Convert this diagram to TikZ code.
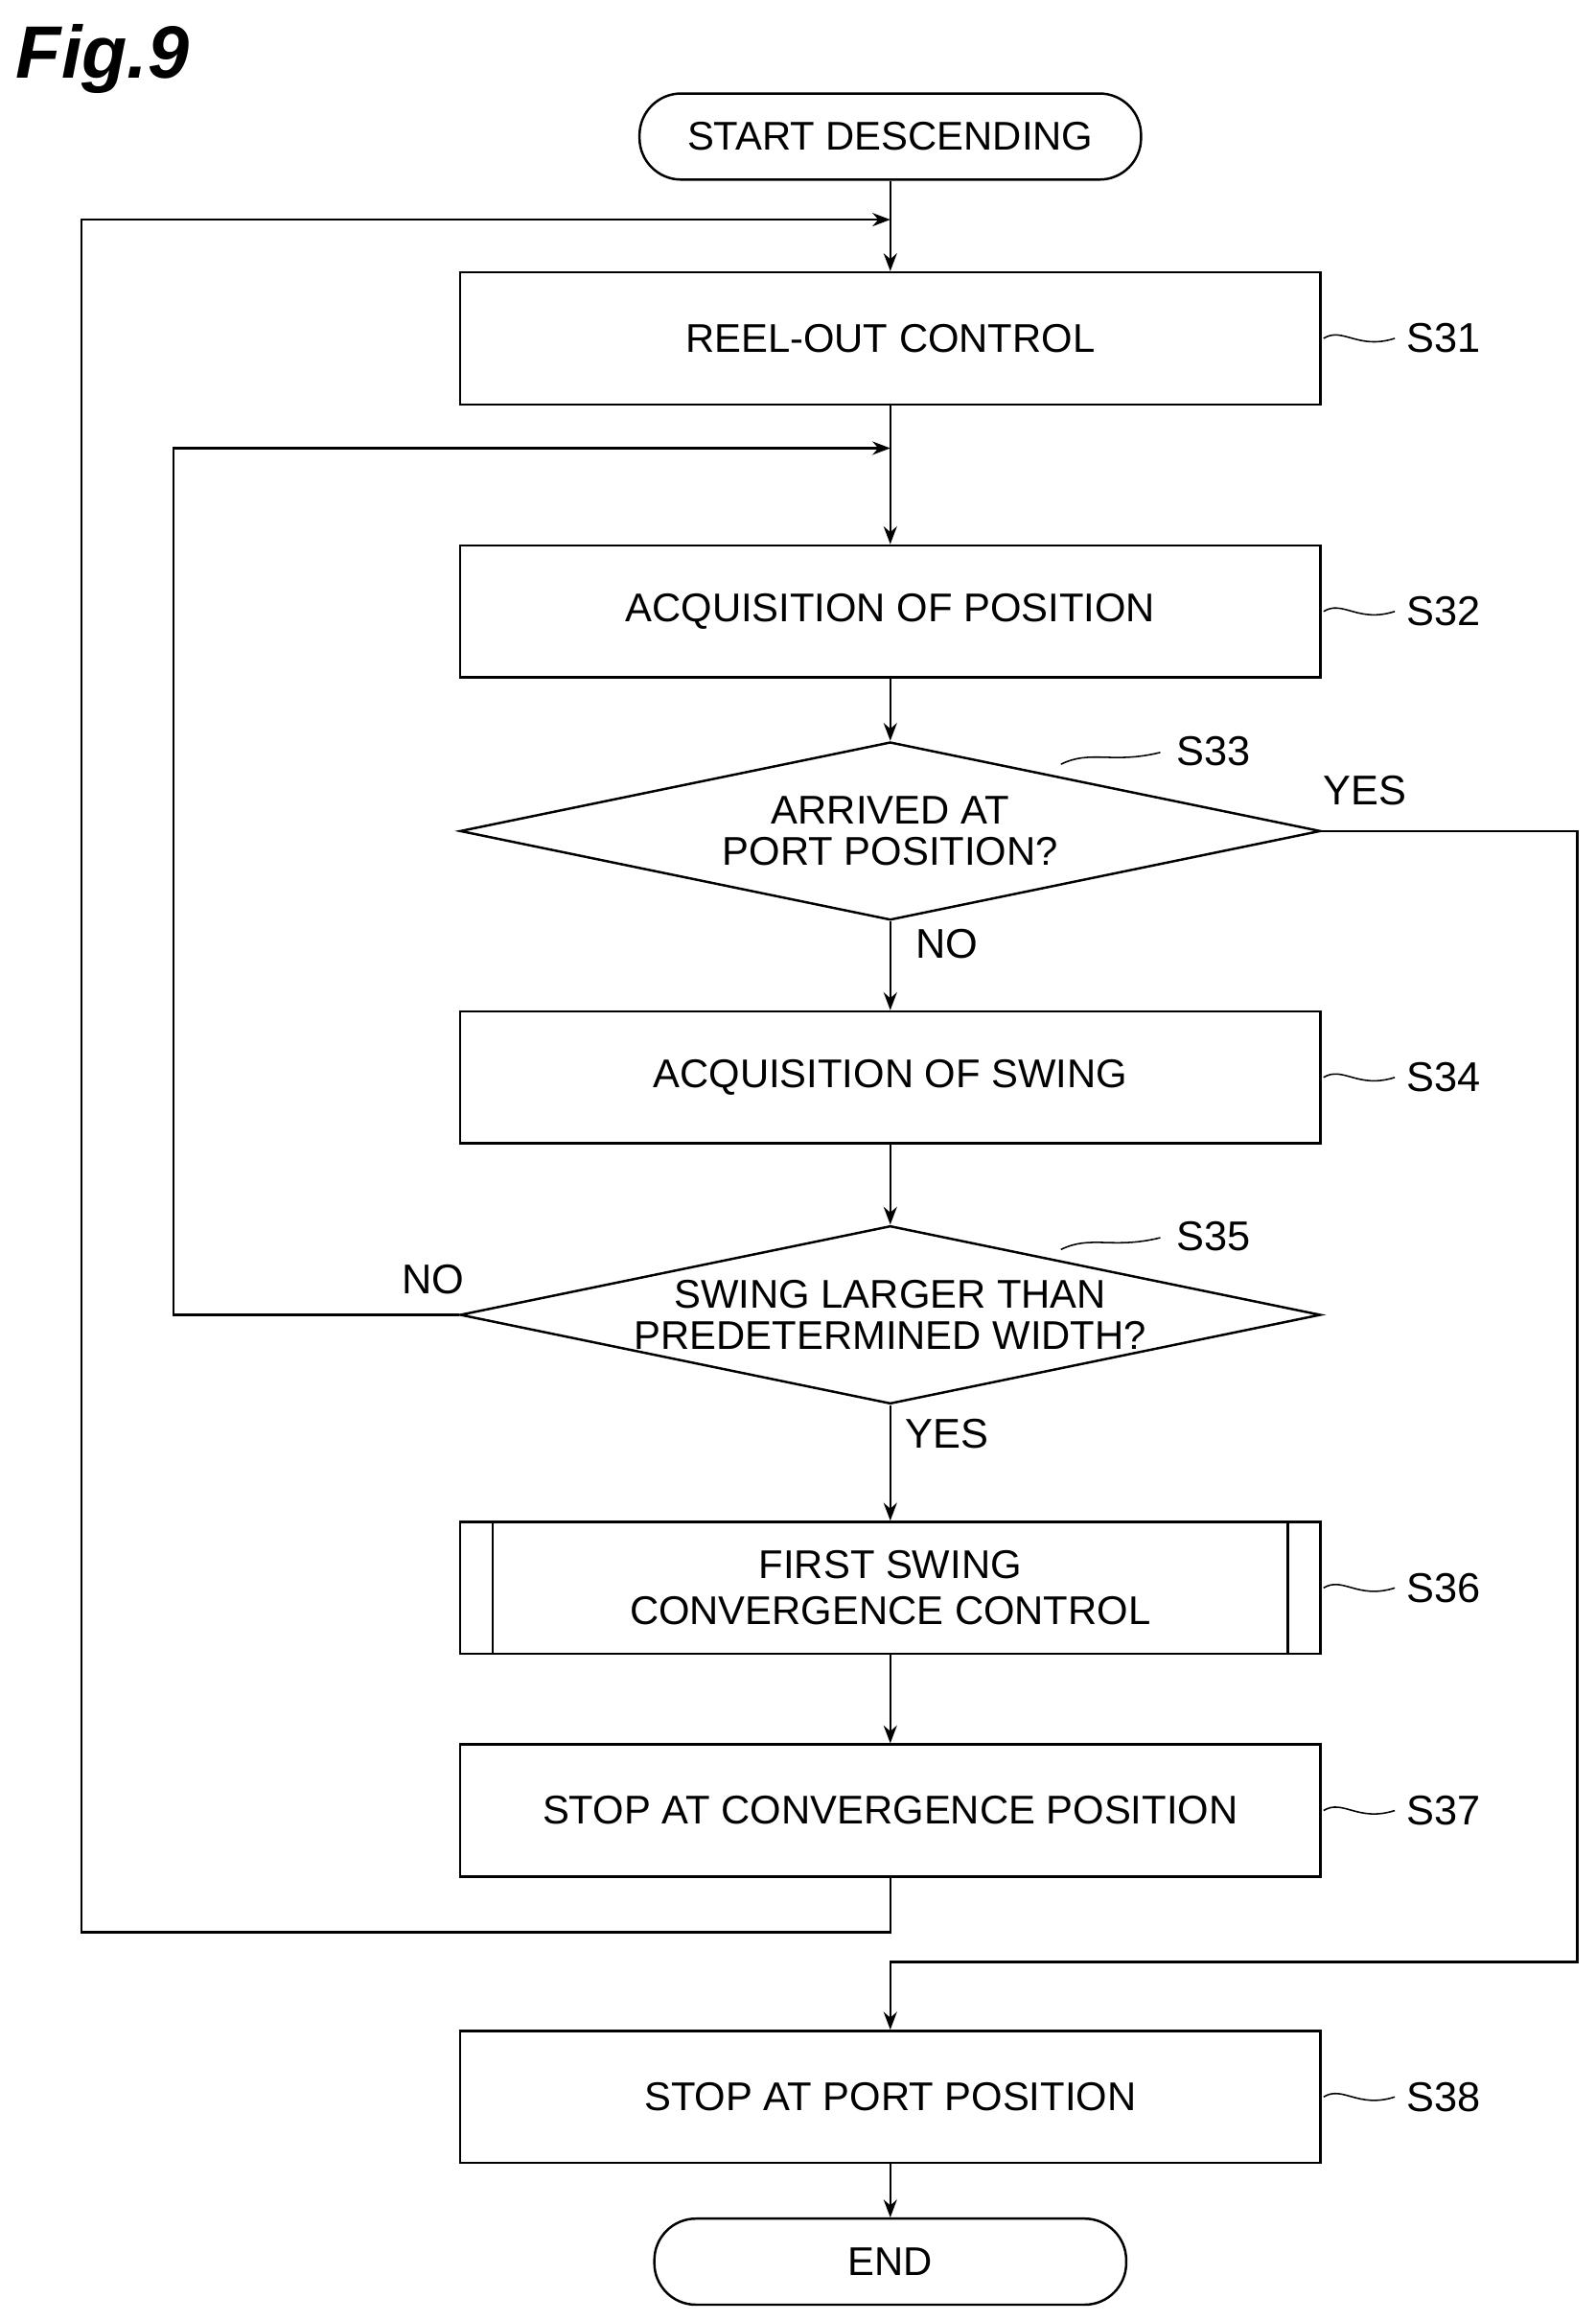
\documentclass[tikz,border=0pt]{standalone}
\usepackage{fontspec}
\setmainfont{Liberation Sans}
\usetikzlibrary{shapes.geometric,arrows.meta}
\begin{document}
\begin{tikzpicture}[x=1pt,y=-1pt,line width=1.6pt,
 box/.style={draw,minimum width=580pt,minimum height=89pt,font=\fontsize{27}{31}\selectfont,align=center},
 term/.style={draw,rounded corners=28pt,minimum height=58pt,font=\fontsize{27}{31}\selectfont},
 dia/.style={draw,diamond,aspect=4.83,minimum width=580pt,minimum height=120pt,inner sep=0pt,font=\fontsize{27}{28}\selectfont,align=center},
 lbl/.style={font=\fontsize{28}{30}\selectfont},
 arr/.style={-{Stealth[length=12pt,width=9pt]}},
 tl/.style={line width=1pt}]
\useasboundingbox (0,0) rectangle (1075,1564);
\node[font=\bfseries\itshape\fontsize{50}{54}\selectfont,anchor=west,inner sep=0pt] (fig) at (10,40) {Fig.9};
\node[term,minimum width=338pt] (st) at (600,92) {START DESCENDING};
\node[box] (s31) at (600,228) {REEL-OUT CONTROL};
\node[box] (s32) at (600,412) {ACQUISITION OF POSITION};
\node[dia] (s33) at (600,560) {ARRIVED AT\\PORT POSITION?};
\node[box] (s34) at (600,726) {ACQUISITION OF SWING};
\node[dia] (s35) at (600,886) {SWING LARGER THAN\\PREDETERMINED WIDTH?};
\node[box] (s36) at (600,1070) {FIRST SWING\\CONVERGENCE CONTROL};
\draw (332,1025) -- (332,1114) (868,1025) -- (868,1114);
\node[box] (s37) at (600,1220) {STOP AT CONVERGENCE POSITION};
\node[box] (s38) at (600,1413) {STOP AT PORT POSITION};
\node[term,minimum width=318pt] (end) at (600,1524) {END};
\coordinate (j1) at (600,148);
\coordinate (j2) at (600,302);
\coordinate (j3) at (600,1322);
\draw[arr] (st) -- (s31);
\draw[arr] (s31) -- (s32);
\draw[arr] (s32) -- (s33);
\draw[arr] (s33) -- (s34);
\draw[arr] (s34) -- (s35);
\draw[arr] (s35) -- (s36);
\draw[arr] (s36) -- (s37);
\draw[arr] (s38) -- (end);
\draw[arr] (s37.south) -- (600,1302) -- (55,1302) -- (55,148) -- (j1);
\draw[arr] (s35.west) -- (117,886) -- (117,302) -- (j2);
\draw[arr] (s33.east) -- (1063,560) -- (1063,1322) -- (j3) -- (s38);
\node[lbl] (y1) at (920,533) {YES};
\node[lbl] (n1) at (638,636) {NO};
\node[lbl] (n2) at (292,862) {NO};
\node[lbl] (y2) at (638,966) {YES};
\foreach \n/\y in {31/228,32/412,34/726,36/1070,37/1220,38/1413}{
 \node[lbl] (l\n) at (973,\y) {S\n};
 \draw[tl] (892,\y) .. controls (905,\y-8) and (915,\y+8) .. (940,\y);
}
\node[lbl] (l33) at (818,506) {S33};
\draw[tl] (715,515) .. controls (735,505) and (750,515) .. (782,507);
\node[lbl] (l35) at (818,833) {S35};
\draw[tl] (715,842) .. controls (735,832) and (750,842) .. (782,834);
\end{tikzpicture}
\end{document}
